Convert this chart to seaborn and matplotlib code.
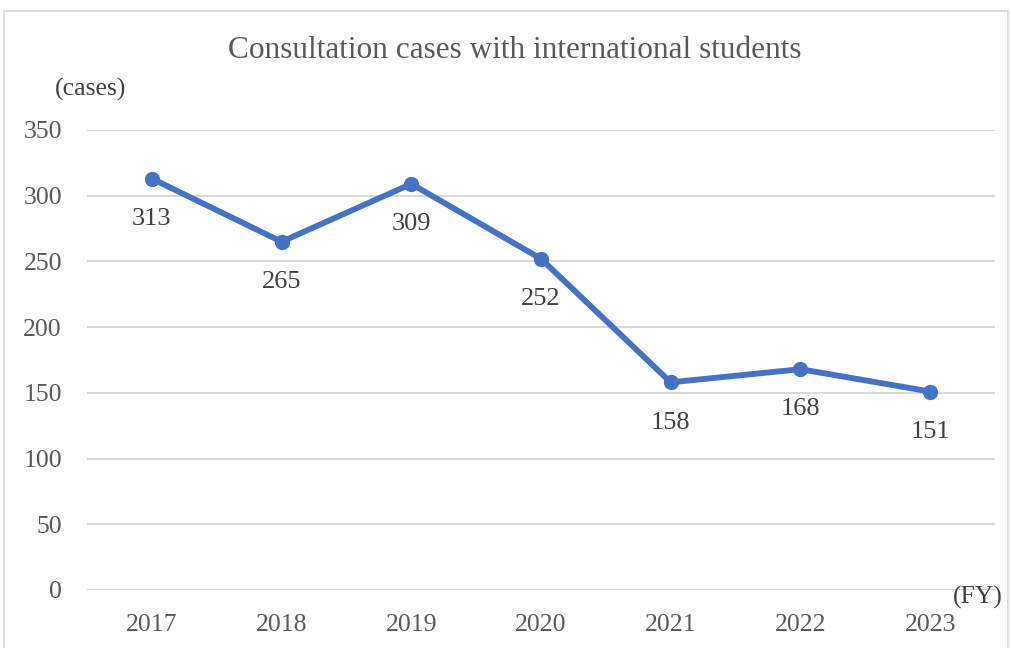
import matplotlib
matplotlib.use('Agg')
import matplotlib.pyplot as plt
import seaborn as sns
import pandas as pd
from matplotlib.patches import Rectangle

years = ['2017', '2018', '2019', '2020', '2021', '2022', '2023']
cases = [313, 265, 309, 252, 158, 168, 151]
y_ticks = [0, 50, 100, 150, 200, 250, 300, 350]

sns.set_theme(style='white')
plt.rcParams['font.family'] = ['Liberation Serif', 'DejaVu Serif']

df = pd.DataFrame({'year': years, 'cases': cases})

fig = plt.figure(figsize=(10.11, 6.48), dpi=100)
ax = fig.add_axes([87 / 1011, 1 - 590 / 648, (995 - 87) / 1011, (590 - 130) / 648])

sns.lineplot(data=df, x='year', y='cases', ax=ax, color='#4472C4', linewidth=4.2,
             marker='o', markersize=11, markeredgewidth=0, sort=False)

for i, v in enumerate(cases):
    ax.annotate(str(v), (i, v), xytext=(0, -29), textcoords='offset points',
                ha='center', va='center', fontsize=19, color='#404040')

ax.set_xlim(-0.5, 6.5)
ax.set_ylim(0, 350)
ax.set_yticks(y_ticks)
ax.yaxis.grid(True, color='#d9d9d9', linewidth=1.5)
ax.set_axisbelow(True)
for s in ax.spines.values():
    s.set_visible(False)
ax.tick_params(axis='both', labelsize=18.5, labelcolor='#595959', length=0)
ax.tick_params(axis='y', pad=18)
ax.tick_params(axis='x', pad=17)
ax.set_xlabel('')
ax.set_ylabel('')

fig.text(515 / 1011, 1 - 50 / 648, 'Consultation cases with international students',
         ha='center', va='center', fontsize=22.5, color='#595959')
fig.text(91 / 1011, 1 - 89 / 648, '(cases)', ha='center', va='center',
         fontsize=18.5, color='#404040')
fig.text(978 / 1011, 1 - 597 / 648, '(FY)', ha='center', va='center',
         fontsize=18.5, color='#404040')

fig.patches.append(Rectangle((4 / 1011, -0.05), 1004 / 1011, 1.05 - 11 / 648,
                             transform=fig.transFigure, fill=False,
                             edgecolor='#d9d9d9', linewidth=1.2))

fig.savefig('out.png', dpi=100)
